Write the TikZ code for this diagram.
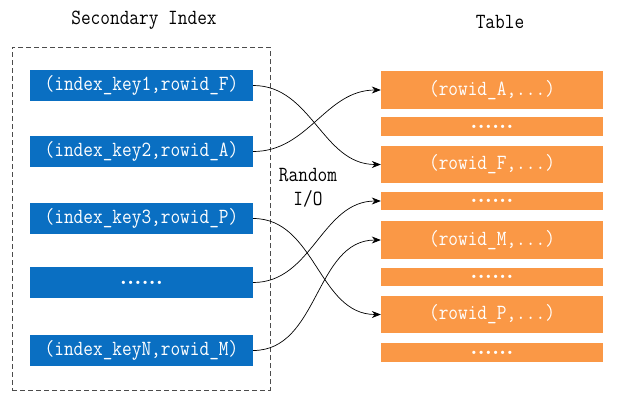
\documentclass[tikz,border=0pt]{standalone}
\usepackage{fontspec}
\usepackage{graphicx}
\usetikzlibrary{arrows.meta}
\definecolor{idxblue}{RGB}{10,111,194}
\definecolor{taborange}{RGB}{250,152,70}
\newcommand\tallt[1]{\scalebox{1}[1.15]{#1}}
\begin{document}
\begin{tikzpicture}[x=1pt,y=-1pt,
  lbl/.style={font=\fontsize{18.8}{22}\selectfont\ttfamily},
  idxbox/.style={fill=idxblue, minimum width=223pt, minimum height=31pt, inner sep=0pt, text=white, font=\fontsize{18.8}{22}\selectfont\ttfamily},
  rowbox/.style={fill=taborange, minimum width=222pt, inner sep=0pt, text=white, font=\fontsize{18.8}{22}\selectfont\ttfamily},
  link/.style={black, line width=0.7pt, out=0, in=180, -{Stealth[length=9pt,width=7pt]}},
  dots/.style={font=\fontsize{23}{24}\selectfont\bfseries}
]
\useasboundingbox (0,0) rectangle (618,407);
\fill[white] (0,0) rectangle (618,407);
% titles
\node[lbl] (title1) at (144,20) {\tallt{Secondary Index}};
\node[lbl] (title2) at (500,22) {\tallt{Table}};
% dashed frame
\node[draw=black!70, dashed, dash pattern=on 5pt off 3pt, line width=0.8pt, minimum width=258pt, minimum height=343pt, inner sep=0pt] (frame) at (141,218.5) {};
% index entries
\node[idxbox] (k1) at (141.5,85.5) {\tallt{(index\_key1,rowid\_F)}};
\node[idxbox] (k2) at (141.5,151.5) {\tallt{(index\_key2,rowid\_A)}};
\node[idxbox] (k3) at (141.5,218.5) {\tallt{(index\_key3,rowid\_P)}};
\node[idxbox, dots] (k4) at (141.5,282.5) {......};
\node[idxbox] (k5) at (141.5,350.5) {\tallt{(index\_keyN,rowid\_M)}};
% table rows
\node[rowbox, minimum height=38pt] (rA) at (492,90) {\tallt{(rowid\_A,...)}};
\node[rowbox, minimum height=19pt, dots] (d1) at (492,126.5) {......};
\node[rowbox, minimum height=37pt] (rF) at (492,164.5) {\tallt{(rowid\_F,...)}};
\node[rowbox, minimum height=18pt, dots] (d2) at (492,201) {......};
\node[rowbox, minimum height=38pt] (rM) at (492,240) {\tallt{(rowid\_M,...)}};
\node[rowbox, minimum height=18pt, dots] (d3) at (492,277) {......};
\node[rowbox, minimum height=37pt] (rP) at (492,314.5) {\tallt{(rowid\_P,...)}};
\node[rowbox, minimum height=19pt, dots] (d4) at (492,352.5) {......};
% label
\node[lbl, align=center] (rio) at (308,188) {\tallt{Random}\\[2pt]\tallt{I/O}};
% connectors
\draw[link] (k1.east) to (rF.west);
\draw[link] (k2.east) to (rA.west);
\draw[link] (k3.east) to (rP.west);
\draw[link] (k4.east) to (d2.west);
\draw[link] (k5.east) to (rM.west);
\end{tikzpicture}
\end{document}
